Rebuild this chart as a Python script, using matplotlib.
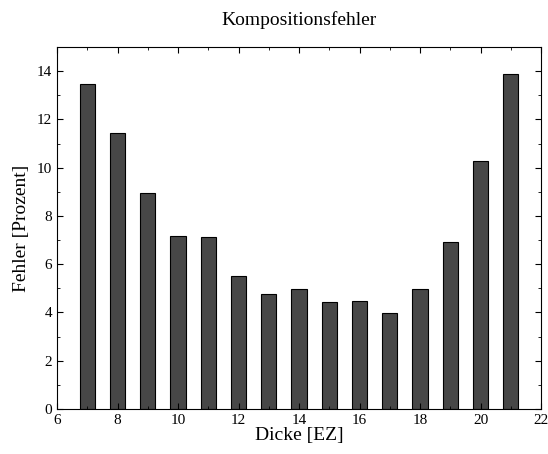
import matplotlib
matplotlib.use('Agg')
import matplotlib.pyplot as plt
from matplotlib.ticker import MultipleLocator

# Dicke in Elementarzellen, Fehler in Prozent
dicke = [7, 8, 9, 10, 11, 12, 13, 14, 15, 16, 17, 18, 19, 20, 21]
fehler = [13.45, 11.42, 8.96, 7.17, 7.11, 5.50, 4.76, 4.96, 4.43, 4.47, 3.98, 4.96, 6.92, 10.26, 13.88]

plt.rcParams['font.family'] = ['Liberation Serif', 'DejaVu Serif']

fig = plt.figure(figsize=(5.48, 4.54), dpi=100)
ax = fig.add_axes([57/548, 1 - 409/454, 484/548, 362/454])

ax.bar(dicke, fehler, width=0.5, color='#474747', edgecolor='black', linewidth=0.8)

ax.set_xlim(6, 22)
ax.set_ylim(0, 15)
ax.xaxis.set_major_locator(MultipleLocator(2))
ax.xaxis.set_minor_locator(MultipleLocator(1))
ax.yaxis.set_major_locator(MultipleLocator(2))
ax.yaxis.set_minor_locator(MultipleLocator(1))
ax.tick_params(which='both', direction='in', top=True, right=True, labelsize=11)
ax.tick_params(which='major', length=4, width=0.8)
ax.tick_params(which='minor', length=2, width=0.6)
for s in ax.spines.values():
    s.set_linewidth(0.8)

ax.set_title('Kompositionsfehler', fontsize=14, pad=16)
ax.set_xlabel('Dicke [EZ]', fontsize=14, labelpad=0)
ax.set_ylabel('Fehler [Prozent]', fontsize=14, labelpad=5)

fig.savefig('out.png', dpi=100)
